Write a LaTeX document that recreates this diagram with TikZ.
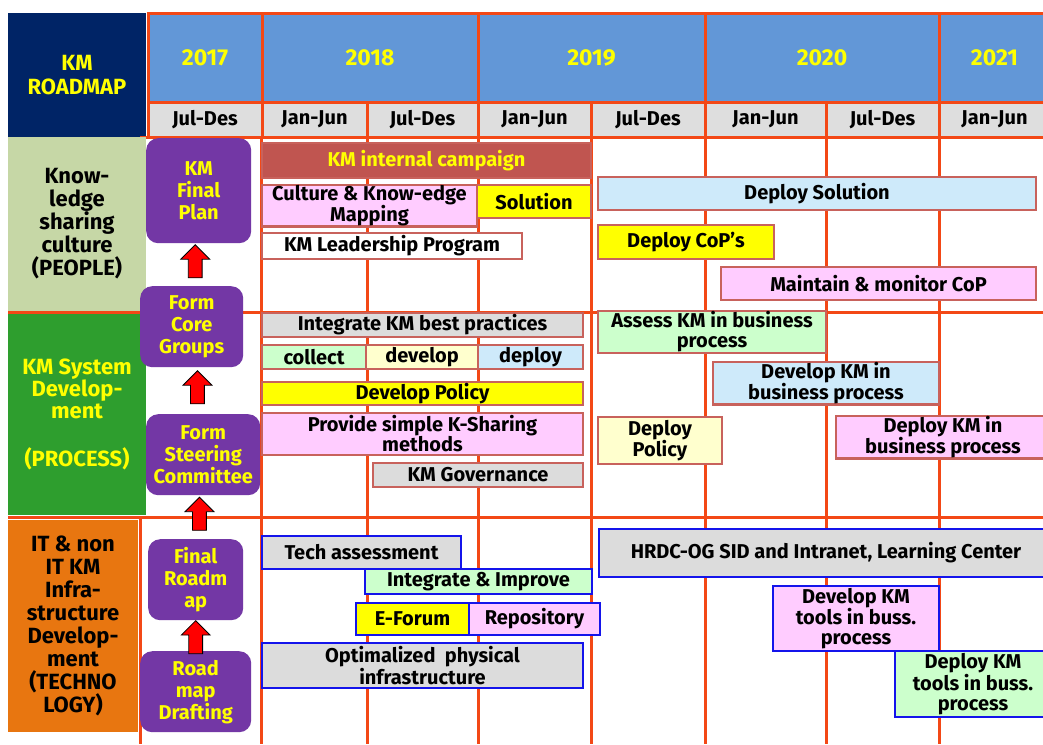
\documentclass[tikz,border=0pt]{standalone}
\usepackage{fontspec}
\setmainfont{Fira Sans}
\usetikzlibrary{shapes.arrows}
\definecolor{gridline}{RGB}{243,72,22}
\definecolor{navy}{RGB}{0,36,102}
\definecolor{yearblue}{RGB}{98,151,215}
\definecolor{halfgray}{RGB}{222,222,222}
\definecolor{peoplegreen}{RGB}{198,215,166}
\definecolor{processgreen}{RGB}{46,158,46}
\definecolor{technoorange}{RGB}{232,118,16}
\definecolor{kmpurple}{RGB}{115,55,165}
\definecolor{kmyellow}{RGB}{255,255,0}
\definecolor{barline}{RGB}{200,98,92}
\definecolor{campaignred}{RGB}{192,85,80}
\definecolor{barpink}{RGB}{255,204,255}
\definecolor{barblue}{RGB}{206,234,250}
\definecolor{bargreen}{RGB}{204,255,204}
\definecolor{barcream}{RGB}{255,255,206}
\definecolor{bargray}{RGB}{220,220,220}
\definecolor{techline}{RGB}{20,20,235}
\begin{document}
\begin{tikzpicture}[x=1pt,y={(0pt,-1pt)},
  gridrule/.style={draw=gridline,line width=3pt},
  cell/.style={gridrule,anchor=north west,inner sep=0pt,outer sep=0pt,font=\fontsize{20}{22}\selectfont\bfseries},
  yearcell/.style={cell,fill=yearblue,text=kmyellow,font=\fontsize{23}{25}\selectfont\bfseries},
  halfcell/.style={cell,fill=halfgray},
  lanebox/.style={anchor=north west,inner sep=0pt,outer sep=0pt,align=center,font=\fontsize{22}{23}\selectfont\bfseries},
  stepbox/.style={fill=kmpurple,text=kmyellow,rounded corners=12pt,anchor=north west,inner sep=0pt,align=center,font=\fontsize{20}{22}\selectfont\bfseries},
  uparrow/.style={single arrow,draw=black,fill=red,line width=0.8pt,shape border rotate=90,minimum height=33pt,minimum width=28pt,single arrow head extend=7.5pt,inner sep=6.5pt},
  bar/.style={draw=barline,line width=2.5pt,anchor=north west,inner sep=0pt,outer sep=0pt,align=center,font=\fontsize{20}{20}\selectfont\bfseries},
  techbar/.style={bar,draw=techline}]
\useasboundingbox (0,0) rectangle (1043,744);
\fill[white] (0,0) rectangle (1043,744);

% header
\node[lanebox,fill=navy,text=kmyellow,minimum width=138,minimum height=124,font=\fontsize{22}{24}\selectfont\bfseries] (roadmap) at (8,13) {KM\\ROADMAP};
\node[yearcell,minimum width=114,minimum height=89] (y2017) at (148,13) {2017};
\node[yearcell,minimum width=216,minimum height=89] (y2018) at (262,13) {2018};
\node[yearcell,minimum width=227,minimum height=89] (y2019) at (478,13) {2019};
\node[yearcell,minimum width=234,minimum height=89] (y2020) at (705,13) {2020};
\node[yearcell,minimum width=111,minimum height=89] (y2021) at (939,13) {2021};

\node[halfcell,minimum width=114,minimum height=35] (h17b) at (148,102) {Jul-Des};
\node[halfcell,minimum width=105,minimum height=35] (h18a) at (262,102) {Jan-Jun};
\node[halfcell,minimum width=111,minimum height=35] (h18b) at (367,102) {Jul-Des};
\node[halfcell,minimum width=113,minimum height=35] (h19a) at (478,102) {Jan-Jun};
\node[halfcell,minimum width=114,minimum height=35] (h19b) at (591,102) {Jul-Des};
\node[halfcell,minimum width=121,minimum height=35] (h20a) at (705,102) {Jan-Jun};
\node[halfcell,minimum width=113,minimum height=35] (h20b) at (826,102) {Jul-Des};
\node[halfcell,minimum width=111,minimum height=35] (h21a) at (939,102) {Jan-Jun};

% body grid
\draw[gridrule] (140,137) -- (1060,137);
\draw[gridrule] (8,312.5) -- (1060,312.5);
\draw[gridrule] (8,517) -- (1060,517);
\draw[gridrule] (261.5,137) -- (261.5,744);  \draw[gridrule] (367,137) -- (367,744);
\draw[gridrule] (478,137) -- (478,744);  \draw[gridrule] (591,137) -- (591,744);
\draw[gridrule] (705,137) -- (705,744);  \draw[gridrule] (826,137) -- (826,744);
\draw[gridrule] (939,137) -- (939,744);  \draw[gridrule] (140,517) -- (140,744);

% lanes
\node[lanebox,fill=peoplegreen,minimum width=138,minimum height=174] (people) at (8,137) {Know-\\ledge\\sharing\\culture\\(PEOPLE)};
\node[lanebox,fill=processgreen,text=kmyellow,minimum width=138,minimum height=201,font=\fontsize{22}{22}\selectfont\bfseries] (process) at (8,314) {KM System\\Develop-\\ment\\[26pt](PROCESS)};
\node[lanebox,fill=technoorange,minimum width=130,minimum height=212] (techno) at (8,520) {IT \& non\\IT KM\\Infra-\\structure\\Develop-\\ment\\(TECHNO\\LOGY)};

% steps
\node[stepbox,minimum width=105,minimum height=105] (finalplan) at (146,138) {KM\\Final\\Plan};
\node[stepbox,minimum width=103,minimum height=81] (coregroups) at (140,286) {Form\\Core\\Groups};
\node[stepbox,minimum width=114,minimum height=81] (steering) at (146,414) {Form\\Steering\\Committee};
\node[stepbox,minimum width=95,minimum height=81] (finalroadmap) at (148,539) {Final\\Roadm\\ap};
\node[stepbox,minimum width=111,minimum height=81] (drafting) at (140,651) {Road\\map\\Drafting};

\path (coregroups.north) -- node[uparrow] (arrowA) {} (finalplan.south);
\path (steering.north) -- node[uparrow] (arrowB) {} (coregroups.south);
\path (finalroadmap.north) -- node[uparrow] (arrowC) {} (steering.south);
\path (drafting.north) -- node[uparrow,pos=.34] (arrowD) {} (finalroadmap.south);

% people
\node[bar,fill=campaignred,text=kmyellow,minimum width=329,minimum height=35] (campaign) at (262,143) {KM internal campaign};
\node[bar,fill=barpink,minimum width=215,minimum height=40] (mapping) at (262,185) {Culture \& Know-edge\\Mapping};
\node[bar,fill=kmyellow,minimum width=114,minimum height=33] (solution) at (477,185) {Solution};
\node[bar,fill=white,minimum width=260,minimum height=26] (leadership) at (262,233) {KM Leadership Program};
\node[bar,fill=barblue,minimum width=438,minimum height=33] (deploysolution) at (598,177) {Deploy Solution};
\node[bar,fill=kmyellow,minimum width=176,minimum height=34] (deploycop) at (598,225) {Deploy CoP’s};
\node[bar,fill=barpink,minimum width=315,minimum height=33] (monitorcop) at (721,267) {Maintain \& monitor CoP};

% process
\node[bar,fill=bargray,minimum width=321,minimum height=24] (bestpractice) at (262,313) {Integrate KM best practices};
\node[bar,fill=bargreen,minimum width=104,minimum height=24] (collect) at (262,345) {collect};
\node[bar,fill=barcream,minimum width=112,minimum height=24] (develop) at (366,345) {develop};
\node[bar,fill=barblue,minimum width=105,minimum height=24] (deploy) at (478,345) {deploy};
\node[bar,fill=kmyellow,minimum width=321,minimum height=23] (policy) at (262,382) {Develop Policy};
\node[bar,fill=barpink,minimum width=321,minimum height=42] (ksharing) at (262,413) {Provide simple K-Sharing\\methods};
\node[bar,fill=bargray,minimum width=210,minimum height=24] (governance) at (373,463) {KM Governance};
\node[bar,fill=bargreen,minimum width=228,minimum height=42] (assess) at (598,311) {Assess KM in business\\process};
\node[bar,fill=barblue,minimum width=226,minimum height=39] (developbp) at (713,362) {Develop KM in\\business process};
\node[bar,fill=barcream,minimum width=124,minimum height=47] (deploypolicy) at (598,417) {Deploy\\Policy};
\node[bar,fill=barpink,minimum width=214,minimum height=41] (deploybp) at (836,416) {Deploy KM in\\business process};

% technology
\node[techbar,fill=bargray,minimum width=199,minimum height=33] (techassess) at (262,536) {Tech assessment};
\node[techbar,fill=bargreen,minimum width=227,minimum height=25] (improve) at (365,569) {Integrate \& Improve};
\node[techbar,fill=kmyellow,minimum width=113,minimum height=32] (eforum) at (356,603) {E-Forum};
\node[techbar,fill=barpink,minimum width=131,minimum height=32] (repository) at (469,603) {Repository};
\node[techbar,fill=bargray,minimum width=321,minimum height=45] (physical) at (262,643) {Optimalized\ \ physical\\infrastructure};
\node[techbar,fill=bargray,minimum width=454,minimum height=48] (hrdc) at (599,529) {HRDC-OG SID and Intranet, Learning Center};
\node[techbar,fill=barpink,minimum width=166,minimum height=65] (devtools) at (773,586) {Develop KM\\tools in buss.\\process};
\node[techbar,fill=bargreen,minimum width=156,minimum height=66] (deploytools) at (895,651) {Deploy KM\\tools in buss.\\process};
\end{tikzpicture}
\end{document}
